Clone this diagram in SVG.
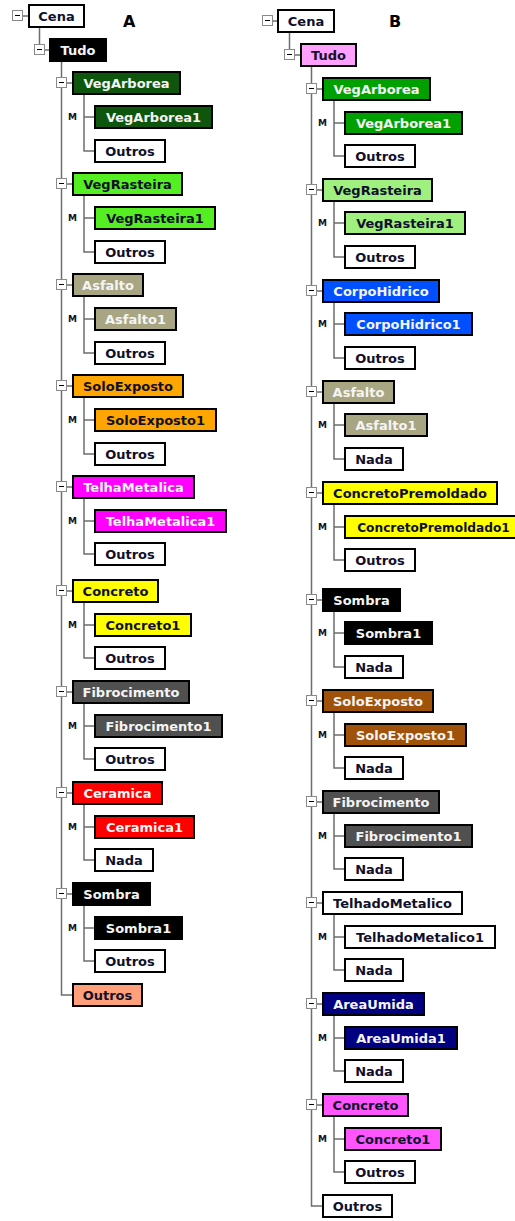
<svg xmlns="http://www.w3.org/2000/svg" xmlns:xlink="http://www.w3.org/1999/xlink" width="515" height="1221" viewBox="0 0 515 1221">
<style>
.n rect{stroke:#000;stroke-width:2}
.n text{font-family:"DejaVu Sans",Verdana,sans-serif;font-weight:bold;font-size:13px;text-anchor:middle;fill:#10102a}
.n text.w{fill:#f4f4f4}
.c path{fill:none;stroke:#6e6e6e;stroke-width:1.5}
.m{font-family:"DejaVu Sans",Verdana,sans-serif;font-weight:bold;font-size:9px;text-anchor:middle;fill:#10102a}
.h{font-family:"DejaVu Sans",Verdana,sans-serif;font-weight:bold;font-size:16px;fill:#000}
</style>
<defs>
<g id="exp"><rect x="0.5" y="0.5" width="10" height="10" fill="#fff" stroke="#8a8a8a" stroke-width="1"/><path d="M3 5.5H8" stroke="#000" stroke-width="1"/></g>
</defs>
<rect width="515" height="1221" fill="#fff"/>
<g id="connectors" class="c">
<path d="M23 16H28M39.5 28V50M45 50H49M61.5 62V995H72"/>
<path d="M67 83H72M84 95V151H94M84 117H94"/>
<path d="M67 184H72M84 196V252H94M84 218H94"/>
<path d="M67 285H72M84 297V353H94M84 319H94"/>
<path d="M67 386H72M84 398V454H94M84 420H94"/>
<path d="M67 487H72M84 499V554H94M84 521H94"/>
<path d="M67 591H72M84 603V658H94M84 625H94"/>
<path d="M67 692H72M84 704V759H94M84 726H94"/>
<path d="M67 793H72M84 805V860H94M84 827H94"/>
<path d="M67 894H72M84 906V961H94M84 928H94"/>
<path d="M273 21H277M289.5 33V55M295 55H300M311.5 67V1206H322"/>
<path d="M317 89H322M334 101V156H344M334 123H344"/>
<path d="M317 190H322M334 202V257H344M334 223H344"/>
<path d="M317 291H322M334 303V358H344M334 324H344"/>
<path d="M317 392H322M334 404V459H344M334 425H344"/>
<path d="M317 493H322M334 505V560H344M334 527H344"/>
<path d="M317 600H322M334 612V667H344M334 633H344"/>
<path d="M317 701H322M334 713V768H344M334 735H344"/>
<path d="M317 802H322M334 814V869H344M334 836H344"/>
<path d="M317 903H322M334 915V970H344M334 937H344"/>
<path d="M317 1004H322M334 1016V1071H344M334 1038H344"/>
<path d="M317 1105H322M334 1117V1172H344M334 1139H344"/>
</g>
<text class="h" x="123" y="27">A</text>
<text class="h" x="389" y="27">B</text>
<g id="labels-m">
<text class="m" x="72.5" y="120.3">M</text>
<text class="m" x="72.5" y="221.3">M</text>
<text class="m" x="72.5" y="322.3">M</text>
<text class="m" x="72.5" y="423.3">M</text>
<text class="m" x="72.5" y="524.3">M</text>
<text class="m" x="72.5" y="628.3">M</text>
<text class="m" x="72.5" y="729.3">M</text>
<text class="m" x="72.5" y="830.3">M</text>
<text class="m" x="72.5" y="931.3">M</text>
<text class="m" x="322.5" y="126.3">M</text>
<text class="m" x="322.5" y="226.3">M</text>
<text class="m" x="322.5" y="327.3">M</text>
<text class="m" x="322.5" y="428.3">M</text>
<text class="m" x="322.5" y="530.3">M</text>
<text class="m" x="322.5" y="636.3">M</text>
<text class="m" x="322.5" y="738.3">M</text>
<text class="m" x="322.5" y="839.3">M</text>
<text class="m" x="322.5" y="940.3">M</text>
<text class="m" x="322.5" y="1041.3">M</text>
<text class="m" x="322.5" y="1142.3">M</text>
</g>
<!-- Tree A -->
<g id="a-cena" class="n"><use xlink:href="#exp" x="12" y="10"/><rect x="29" y="5" width="55" height="22" fill="#fff"/><text x="56.5" y="21">Cena</text></g>
<g id="a-tudo" class="n"><use xlink:href="#exp" x="34" y="44"/><rect x="50" y="39" width="56" height="22" fill="#000"/><text class="w" x="78" y="55">Tudo</text></g>
<g id="a-vegarborea" class="n"><use xlink:href="#exp" x="56" y="77"/><rect x="73" y="72" width="107" height="22" fill="#0e560e"/><text class="w" x="126.5" y="88">VegArborea</text></g>
<g id="a-vegarborea1" class="n"><rect x="95" y="106" width="117" height="22" fill="#0e560e"/><text class="w" x="153.5" y="122">VegArborea1</text></g>
<g id="a-vegarborea-outros" class="n"><rect x="95" y="140" width="70" height="22" fill="#fff"/><text x="130" y="156">Outros</text></g>
<g id="a-vegrasteira" class="n"><use xlink:href="#exp" x="56" y="178"/><rect x="73" y="173" width="109" height="22" fill="#55ee22"/><text x="127.5" y="189">VegRasteira</text></g>
<g id="a-vegrasteira1" class="n"><rect x="95" y="207" width="120" height="22" fill="#55ee22"/><text x="155" y="223">VegRasteira1</text></g>
<g id="a-vegrasteira-outros" class="n"><rect x="95" y="241" width="70" height="22" fill="#fff"/><text x="130" y="257">Outros</text></g>
<g id="a-asfalto" class="n"><use xlink:href="#exp" x="56" y="279"/><rect x="73" y="274" width="70" height="22" fill="#a8a682"/><text class="w" x="108" y="290">Asfalto</text></g>
<g id="a-asfalto1" class="n"><rect x="95" y="308" width="81" height="22" fill="#a8a682"/><text class="w" x="135.5" y="324">Asfalto1</text></g>
<g id="a-asfalto-outros" class="n"><rect x="95" y="342" width="70" height="22" fill="#fff"/><text x="130" y="358">Outros</text></g>
<g id="a-soloexposto" class="n"><use xlink:href="#exp" x="56" y="380"/><rect x="73" y="375" width="110" height="22" fill="#ffa500"/><text x="128" y="391">SoloExposto</text></g>
<g id="a-soloexposto1" class="n"><rect x="95" y="409" width="121" height="22" fill="#ffa500"/><text x="155.5" y="425">SoloExposto1</text></g>
<g id="a-soloexposto-outros" class="n"><rect x="95" y="443" width="70" height="22" fill="#fff"/><text x="130" y="459">Outros</text></g>
<g id="a-telhametalica" class="n"><use xlink:href="#exp" x="56" y="481"/><rect x="73" y="476" width="121" height="22" fill="#ff00ff"/><text class="w" x="133.5" y="492">TelhaMetalica</text></g>
<g id="a-telhametalica1" class="n"><rect x="95" y="510" width="131" height="22" fill="#ff00ff"/><text class="w" x="160.5" y="526">TelhaMetalica1</text></g>
<g id="a-telhametalica-outros" class="n"><rect x="95" y="543" width="70" height="22" fill="#fff"/><text x="130" y="559">Outros</text></g>
<g id="a-concreto" class="n"><use xlink:href="#exp" x="56" y="585"/><rect x="73" y="580" width="85" height="22" fill="#ffff00"/><text x="115.5" y="596">Concreto</text></g>
<g id="a-concreto1" class="n"><rect x="95" y="614" width="96" height="22" fill="#ffff00"/><text x="143" y="630">Concreto1</text></g>
<g id="a-concreto-outros" class="n"><rect x="95" y="647" width="70" height="22" fill="#fff"/><text x="130" y="663">Outros</text></g>
<g id="a-fibrocimento" class="n"><use xlink:href="#exp" x="56" y="686"/><rect x="73" y="681" width="116" height="22" fill="#505050"/><text class="w" x="131" y="697">Fibrocimento</text></g>
<g id="a-fibrocimento1" class="n"><rect x="95" y="715" width="127" height="22" fill="#505050"/><text class="w" x="158.5" y="731">Fibrocimento1</text></g>
<g id="a-fibrocimento-outros" class="n"><rect x="95" y="748" width="70" height="22" fill="#fff"/><text x="130" y="764">Outros</text></g>
<g id="a-ceramica" class="n"><use xlink:href="#exp" x="56" y="787"/><rect x="73" y="782" width="89" height="22" fill="#ff0000"/><text class="w" x="117.5" y="798">Ceramica</text></g>
<g id="a-ceramica1" class="n"><rect x="95" y="816" width="99" height="22" fill="#ff0000"/><text class="w" x="144.5" y="832">Ceramica1</text></g>
<g id="a-ceramica-nada" class="n"><rect x="95" y="849" width="58" height="22" fill="#fff"/><text x="124" y="865">Nada</text></g>
<g id="a-sombra" class="n"><use xlink:href="#exp" x="56" y="888"/><rect x="73" y="883" width="77" height="22" fill="#000"/><text class="w" x="111.5" y="899">Sombra</text></g>
<g id="a-sombra1" class="n"><rect x="95" y="917" width="87" height="22" fill="#000"/><text class="w" x="138.5" y="933">Sombra1</text></g>
<g id="a-sombra-outros" class="n"><rect x="95" y="950" width="70" height="22" fill="#fff"/><text x="130" y="966">Outros</text></g>
<g id="a-outros" class="n"><rect x="73" y="984" width="69" height="22" fill="#ffa07a"/><text x="107.5" y="1000">Outros</text></g>
<!-- Tree B -->
<g id="b-cena" class="n"><use xlink:href="#exp" x="262" y="15"/><rect x="278" y="10" width="56" height="22" fill="#fff"/><text x="306" y="26">Cena</text></g>
<g id="b-tudo" class="n"><use xlink:href="#exp" x="284" y="49"/><rect x="301" y="44" width="55" height="22" fill="#ffa0ff"/><text x="328.5" y="60">Tudo</text></g>
<g id="b-vegarborea" class="n"><use xlink:href="#exp" x="306" y="83"/><rect x="323" y="78" width="107" height="22" fill="#00a000"/><text class="w" x="376.5" y="94">VegArborea</text></g>
<g id="b-vegarborea1" class="n"><rect x="345" y="112" width="117" height="22" fill="#00a000"/><text class="w" x="403.5" y="128">VegArborea1</text></g>
<g id="b-vegarborea-outros" class="n"><rect x="345" y="145" width="70" height="22" fill="#fff"/><text x="380" y="161">Outros</text></g>
<g id="b-vegrasteira" class="n"><use xlink:href="#exp" x="306" y="184"/><rect x="323" y="179" width="109" height="22" fill="#a0f080"/><text x="377.5" y="195">VegRasteira</text></g>
<g id="b-vegrasteira1" class="n"><rect x="345" y="212" width="120" height="22" fill="#a0f080"/><text x="405" y="228">VegRasteira1</text></g>
<g id="b-vegrasteira-outros" class="n"><rect x="345" y="246" width="70" height="22" fill="#fff"/><text x="380" y="262">Outros</text></g>
<g id="b-corpohidrico" class="n"><use xlink:href="#exp" x="306" y="285"/><rect x="323" y="280" width="116" height="22" fill="#0050ff"/><text class="w" x="381" y="296">CorpoHidrico</text></g>
<g id="b-corpohidrico1" class="n"><rect x="345" y="313" width="127" height="22" fill="#0050ff"/><text class="w" x="408.5" y="329">CorpoHidrico1</text></g>
<g id="b-corpohidrico-outros" class="n"><rect x="345" y="347" width="70" height="22" fill="#fff"/><text x="380" y="363">Outros</text></g>
<g id="b-asfalto" class="n"><use xlink:href="#exp" x="306" y="386"/><rect x="323" y="381" width="71" height="22" fill="#a8a682"/><text class="w" x="358.5" y="397">Asfalto</text></g>
<g id="b-asfalto1" class="n"><rect x="345" y="414" width="82" height="22" fill="#a8a682"/><text class="w" x="386" y="430">Asfalto1</text></g>
<g id="b-asfalto-nada" class="n"><rect x="345" y="448" width="58" height="22" fill="#fff"/><text x="374" y="464">Nada</text></g>
<g id="b-concretopremoldado" class="n"><use xlink:href="#exp" x="306" y="487"/><rect x="323" y="482" width="174" height="22" fill="#ffff00"/><text x="410" y="498">ConcretoPremoldado</text></g>
<g id="b-concretopremoldado1" class="n"><rect x="345" y="516" width="185" height="22" fill="#ffff00"/><text x="433.5" y="532" style="font-size:12.2px">ConcretoPremoldado1</text></g>
<g id="b-concretopremoldado-outros" class="n"><rect x="345" y="549" width="70" height="22" fill="#fff"/><text x="380" y="565">Outros</text></g>
<g id="b-sombra" class="n"><use xlink:href="#exp" x="306" y="594"/><rect x="323" y="589" width="77" height="22" fill="#000"/><text class="w" x="361.5" y="605">Sombra</text></g>
<g id="b-sombra1" class="n"><rect x="345" y="622" width="87" height="22" fill="#000"/><text class="w" x="388.5" y="638">Sombra1</text></g>
<g id="b-sombra-nada" class="n"><rect x="345" y="656" width="58" height="22" fill="#fff"/><text x="374" y="672">Nada</text></g>
<g id="b-soloexposto" class="n"><use xlink:href="#exp" x="306" y="695"/><rect x="323" y="690" width="110" height="22" fill="#a0520a"/><text class="w" x="378" y="706">SoloExposto</text></g>
<g id="b-soloexposto1" class="n"><rect x="345" y="724" width="121" height="22" fill="#a0520a"/><text class="w" x="405.5" y="740">SoloExposto1</text></g>
<g id="b-soloexposto-nada" class="n"><rect x="345" y="757" width="58" height="22" fill="#fff"/><text x="374" y="773">Nada</text></g>
<g id="b-fibrocimento" class="n"><use xlink:href="#exp" x="306" y="796"/><rect x="323" y="791" width="116" height="22" fill="#505050"/><text class="w" x="381" y="807">Fibrocimento</text></g>
<g id="b-fibrocimento1" class="n"><rect x="345" y="825" width="127" height="22" fill="#505050"/><text class="w" x="408.5" y="841">Fibrocimento1</text></g>
<g id="b-fibrocimento-nada" class="n"><rect x="345" y="858" width="58" height="22" fill="#fff"/><text x="374" y="874">Nada</text></g>
<g id="b-telhadometalico" class="n"><use xlink:href="#exp" x="306" y="897"/><rect x="323" y="892" width="139" height="22" fill="#fff"/><text x="392.5" y="908">TelhadoMetalico</text></g>
<g id="b-telhadometalico1" class="n"><rect x="345" y="926" width="150" height="22" fill="#fff"/><text x="420" y="942">TelhadoMetalico1</text></g>
<g id="b-telhadometalico-nada" class="n"><rect x="345" y="959" width="58" height="22" fill="#fff"/><text x="374" y="975">Nada</text></g>
<g id="b-areaumida" class="n"><use xlink:href="#exp" x="306" y="998"/><rect x="323" y="993" width="101" height="22" fill="#000080"/><text class="w" x="373.5" y="1009">AreaUmida</text></g>
<g id="b-areaumida1" class="n"><rect x="345" y="1027" width="112" height="22" fill="#000080"/><text class="w" x="401" y="1043">AreaUmida1</text></g>
<g id="b-areaumida-nada" class="n"><rect x="345" y="1060" width="58" height="22" fill="#fff"/><text x="374" y="1076">Nada</text></g>
<g id="b-concreto" class="n"><use xlink:href="#exp" x="306" y="1099"/><rect x="323" y="1094" width="85" height="22" fill="#ff55ff"/><text x="365.5" y="1110">Concreto</text></g>
<g id="b-concreto1" class="n"><rect x="345" y="1128" width="96" height="22" fill="#ff55ff"/><text x="393" y="1144">Concreto1</text></g>
<g id="b-concreto-outros" class="n"><rect x="345" y="1161" width="70" height="22" fill="#fff"/><text x="380" y="1177">Outros</text></g>
<g id="b-outros" class="n"><rect x="323" y="1195" width="69" height="22" fill="#fff"/><text x="357.5" y="1211">Outros</text></g>
</svg>
